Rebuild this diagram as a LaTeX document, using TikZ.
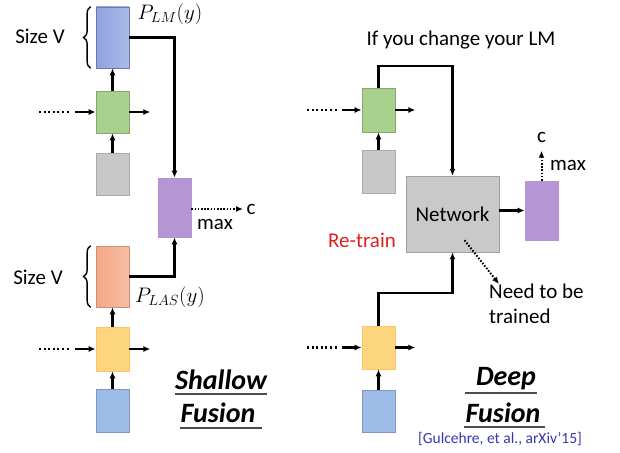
\RequirePackage{fix-cm}
\documentclass[tikz,border=0pt]{standalone}
\usepackage{fontspec}
\setmainfont{Carlito}
\usetikzlibrary{arrows.meta,decorations.pathreplacing}

\definecolor{lmblue}{HTML}{8FA3DF}
\definecolor{lasorange}{HTML}{F4A886}
\definecolor{rnnyellow}{HTML}{FDD57E}
\definecolor{encblue}{HTML}{9DBDE8}
\definecolor{rnngreen}{HTML}{A9D18E}
\definecolor{embgray}{HTML}{C8C8C8}
\definecolor{outpurple}{HTML}{B595D3}
\definecolor{netgray}{HTML}{C9C9C9}
\definecolor{retrainred}{HTML}{E02020}
\definecolor{citeblue}{HTML}{3535B5}

\tikzset{
  blk/.style={draw,line width=0.7pt,minimum width=33pt,inner sep=0pt},
  con/.style={line width=2.2pt},
  dots/.style={line width=2.2pt,dash pattern=on 2pt off 2.6pt},
  finedots/.style={line width=2pt,dash pattern=on 1.6pt off 1.6pt},
  lbl/.style={font=\fontsize{21}{25}\selectfont},
  ttl/.style={font=\fontsize{28}{32}\selectfont\bfseries\itshape},
  uline/.style={line width=1.4pt,black!70}
}

\begin{document}
\begin{tikzpicture}[x=1pt,y=-1pt,>={Latex[length=7pt,width=6pt]}]
  \useasboundingbox (0,0) rectangle (620,452);

  % shallow fusion
  \node[blk,draw=lmblue!75!black,left color=lmblue,right color=lmblue!75,minimum height=61pt] (lm) at (112.5,37.5) {};
  \node[blk,draw=rnngreen!80!black,fill=rnngreen,minimum height=42pt] (rnna) at (112.5,112) {};
  \node[blk,draw=embgray!85!black,fill=embgray,minimum height=42pt] (emba) at (112.5,174) {};
  \node[blk,draw=outpurple,fill=outpurple,minimum height=59pt] (outa) at (174.5,207.5) {};
  \node[blk,draw=lasorange!85!black,left color=lasorange,right color=lasorange!75,minimum height=61pt] (las) at (112.5,276.5) {};
  \node[blk,draw=rnnyellow!80!orange,fill=rnnyellow,minimum height=44pt] (rnnb) at (112.5,349) {};
  \node[blk,draw=encblue!80!black,fill=encblue,minimum height=43pt] (enca) at (112.5,410.5) {};

  \draw[con,->] (emba) -- (rnna);
  \draw[con,->] (rnna) -- (lm);
  \draw[con,->] (enca) -- (rnnb);
  \draw[con,->] (rnnb) -- (las);
  \draw[con,<-] (rnna.west) -- ++(-21,0);
  \draw[con,->] (rnna.east) -- ++(21,0);
  \draw[dots] ([xshift=-27pt]rnna.west) -- ++(-30,0);
  \draw[con,<-] (rnnb.west) -- ++(-21,0);
  \draw[con,->] (rnnb.east) -- ++(21,0);
  \draw[dots] ([xshift=-27pt]rnnb.west) -- ++(-30,0);

  \draw[con,->] (lm.east) -| (outa.north);
  \draw[con,->] (las.east) -| (outa.south);

  \draw[line width=1.4pt,decorate,decoration={brace,amplitude=7pt}] ([xshift=-5pt]lm.south west) -- ([xshift=-5pt]lm.north west);
  \draw[line width=1.4pt,decorate,decoration={brace,amplitude=7pt}] ([xshift=-5pt]las.south west) -- ([xshift=-5pt]las.north west);
  \node[lbl] (sizea) at (40,36) {Size V};
  \node[lbl] (sizeb) at (38,277) {Size V};
  \node[lbl] (plm) at (170,14) {$P_{LM}(y)$};
  \node[lbl] (plas) at (170,297) {$P_{LAS}(y)$};

  \node[lbl] (ca) at (251,209) {c};
  \node[lbl] (maxa) at (215,224) {max};
  \draw[finedots,->] (outa.east |- ca) -- (ca.west);

  \node[ttl] (shal) at (221,380) {Shallow};
  \node[ttl] (fusa) at (218,413) {Fusion};
  \draw[uline] (175,394) -- (267,394);
  \draw[uline] (180,428) -- (262,428);

  % deep fusion
  \node[lbl] (chg) at (461,40) {If you change your LM};
  \node[blk,draw=rnngreen!80!black,fill=rnngreen,minimum height=44pt] (rnnc) at (378.5,110) {};
  \node[blk,draw=embgray!85!black,fill=embgray,minimum height=43pt] (embb) at (378.5,171.5) {};
  \node[lbl,draw=netgray!80!black,fill=netgray,minimum width=93pt,minimum height=76pt] (net) at (452.5,214) {Network};
  \node[blk,draw=outpurple,fill=outpurple,minimum height=59pt] (outb) at (541.5,210.5) {};
  \node[blk,draw=rnnyellow!80!orange,fill=rnnyellow,minimum height=43pt] (rnnd) at (378.5,347.5) {};
  \node[blk,draw=encblue!80!black,fill=encblue,minimum height=42pt] (encb) at (378.5,411) {};

  \draw[con,->] (embb) -- (rnnc);
  \draw[con,->] (encb) -- (rnnd);
  \draw[con,<-] (rnnc.west) -- ++(-20,0);
  \draw[con,->] (rnnc.east) -- ++(20,0);
  \draw[dots] ([xshift=-25pt]rnnc.west) -- ++(-32,0);
  \draw[con,<-] (rnnd.west) -- ++(-20,0);
  \draw[con,->] (rnnd.east) -- ++(20,0);
  \draw[dots] ([xshift=-25pt]rnnd.west) -- ++(-32,0);

  \draw[con,->] (rnnc.north) -- ++(0,-22) -| (net.north);
  \draw[con,->] (rnnd.north) -- ++(0,-33) -| (net.south);
  \draw[con,->] (net.east |- outb) -- (outb.west);

  \node[lbl] (cb) at (541.5,137) {c};
  \node[lbl] (maxb) at (568,165) {max};
  \draw[finedots,->,shorten >=5pt] (outb.north) -- (cb.south);

  \node[lbl,text=retrainred] (retrain) at (362,240) {Re-train};
  \node[lbl,align=left,anchor=north west,inner sep=0pt] (need) at (489,284) {Need to be\\trained};
  \draw[finedots,->] ([shift={(12,-12)}]net.south) -- ([xshift=10pt]need.north west);

  \node[ttl] (deep) at (506,379) {Deep};
  \node[ttl] (fusb) at (503,413) {Fusion};
  \draw[uline] (465,393) -- (537,393);
  \draw[uline] (464,427) -- (545,427);
  \node[font=\fontsize{15.5}{18}\selectfont,text=citeblue] (cite) at (500,439) {[Gulcehre, et al., arXiv’15]};
\end{tikzpicture}
\end{document}
